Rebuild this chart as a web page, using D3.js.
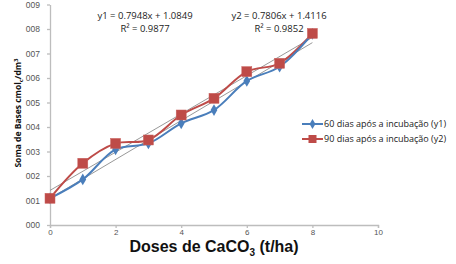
<!DOCTYPE html>
<html>
<head>
<meta charset="utf-8">
<script src="https://cdn.jsdelivr.net/npm/d3@7"></script>
<style>
  body { margin: 0; background: #fff; }
  svg { display: block; font-family: 'Open Sans', 'Liberation Sans', sans-serif; }
</style>
</head>
<body>
<div id="chart"></div>
<script>
const doses = [0, 1, 2, 3, 4, 5, 6, 7, 8]
const dias60 = [1.09, 1.86, 3.09, 3.33, 4.15, 4.69, 5.88, 6.46, 7.80]
const dias90 = [1.09, 2.52, 3.33, 3.47, 4.49, 5.17, 6.26, 6.60, 7.82]
const seriesNames = ['60 dias após a incubação (y1)', '90 dias após a incubação (y2)']
const trend1 = { slope: 0.7948, intercept: 1.0849, r2: 0.9877 }
const trend2 = { slope: 0.7806, intercept: 1.4116, r2: 0.9852 }
const yTickLabels = ['000', '001', '002', '003', '004', '005', '006', '007', '008', '009']
const xTicks = [0, 2, 4, 6, 8, 10]

const width = 456
const height = 264
const margin = { top: 4.5, right: 78, bottom: 39, left: 50 }

const svg = d3.select('#chart').append('svg')
  .attr('width', width)
  .attr('height', height)

const x = d3.scaleLinear().domain([0, 10]).range([margin.left, width - margin.right])
const y = d3.scaleLinear().domain([0, 9]).range([height - margin.bottom, margin.top])

// axes
const axisColor = '#bdbdbd'
svg.append('g')
  .attr('transform', `translate(0,${y(0)})`)
  .call(d3.axisBottom(x).tickValues(xTicks).tickSize(3).tickPadding(1).tickFormat(d3.format('d')))
  .call((g) => g.selectAll('path, line').attr('stroke', axisColor).attr('stroke-width', 1.3))
  .call((g) => g.selectAll('text').attr('fill', '#555').attr('font-size', 8)
    .attr('font-family', 'Liberation Sans, sans-serif'))

svg.append('g')
  .attr('transform', `translate(${x(0)},0)`)
  .call(d3.axisLeft(y).tickValues(d3.range(0, 10)).tickSize(3).tickPadding(7)
    .tickFormat((d) => yTickLabels[d]).tickSizeOuter(0))
  .call((g) => g.selectAll('path, line').attr('stroke', axisColor).attr('stroke-width', 1.3))
  .call((g) => g.selectAll('text').attr('fill', '#555').attr('font-size', 8.5))

// trend lines
const trends = [trend1, trend2]
svg.append('g')
  .selectAll('line')
  .data(trends)
  .join('line')
  .attr('x1', x(0))
  .attr('x2', x(8))
  .attr('y1', (d) => y(d.intercept))
  .attr('y2', (d) => y(d.intercept + d.slope * 8))
  .attr('stroke', '#8c8c8c')
  .attr('stroke-width', 0.9)

const line = d3.line()
  .x((d, i) => x(doses[i]))
  .y((d) => y(d))
  .curve(d3.curveCatmullRom.alpha(0.5))

const blue = '#4a7ebb'
const red = '#be4b48'

svg.append('path')
  .datum(dias90)
  .attr('d', line)
  .attr('fill', 'none')
  .attr('stroke', red)
  .attr('stroke-width', 2)

svg.append('path')
  .datum(dias60)
  .attr('d', line)
  .attr('fill', 'none')
  .attr('stroke', blue)
  .attr('stroke-width', 2)

svg.append('g')
  .selectAll('path')
  .data(dias60)
  .join('path')
  .attr('d', d3.symbol(d3.symbolDiamond, 40))
  .attr('transform', (d, i) => `translate(${x(doses[i])},${y(d)})`)
  .attr('fill', blue)

svg.append('g')
  .selectAll('rect')
  .data(dias90)
  .join('rect')
  .attr('x', (d, i) => x(doses[i]) - 5)
  .attr('y', (d) => y(d) - 5)
  .attr('width', 10)
  .attr('height', 10)
  .attr('fill', red)
  .attr('stroke', '#c9625f')
  .attr('stroke-width', 0.5)

// equations
const eqPos = [145, 279]
trends.forEach((t, i) => {
  const g = svg.append('text')
    .attr('text-anchor', 'middle')
    .attr('font-size', 9.5)
    .attr('fill', '#222')
  g.append('tspan')
    .attr('x', eqPos[i])
    .attr('y', 19)
    .text(`y${i + 1} = ${t.slope.toFixed(4)}x + ${t.intercept.toFixed(4)}`)
  g.append('tspan')
    .attr('x', eqPos[i])
    .attr('y', 31.5)
    .text(`R² = ${t.r2.toFixed(4)}`)
})

// legend
const legend = svg.append('g').attr('transform', 'translate(302,124)')
const legendRows = legend.selectAll('g')
  .data(seriesNames)
  .join('g')
  .attr('transform', (d, i) => `translate(0,${i * 15})`)
legendRows.append('line')
  .attr('x1', 0).attr('x2', 21)
  .attr('stroke', (d, i) => (i ? red : blue))
  .attr('stroke-width', 2)
legendRows.each(function (d, i) {
  const r = d3.select(this)
  if (i === 0) {
    r.append('path').attr('d', d3.symbol(d3.symbolDiamond, 30)).attr('transform', 'translate(10.5,0)').attr('fill', blue)
  } else {
    r.append('rect').attr('x', 6.5).attr('y', -4).attr('width', 8).attr('height', 8).attr('fill', red)
  }
})
legendRows.append('text')
  .attr('x', 22)
  .attr('dy', '0.35em')
  .attr('font-size', 9)
  .attr('fill', '#222')
  .text((d) => d)

// axis titles
const xTitle = svg.append('text')
  .attr('x', 214)
  .attr('y', 252)
  .attr('text-anchor', 'middle')
  .attr('font-family', 'Liberation Sans, sans-serif')
  .attr('font-size', 16)
  .attr('font-weight', 'bold')
  .attr('fill', '#111')
xTitle.append('tspan').text('Doses de CaCO')
xTitle.append('tspan').attr('font-size', 10).attr('dy', 4).text('3')
xTitle.append('tspan').attr('dy', -4).text(' (t/ha)')

const yTitle = svg.append('text')
  .attr('transform', 'translate(21,113) rotate(-90)')
  .attr('text-anchor', 'middle')
  .attr('font-size', 8.5)
  .attr('font-weight', 'bold')
  .attr('fill', '#111')
yTitle.append('tspan').text('Soma de Bases cmol')
yTitle.append('tspan').attr('font-size', 6).attr('dy', 2).text('c')
yTitle.append('tspan').attr('dy', -2).text('/dm')
yTitle.append('tspan').attr('font-size', 6).attr('dy', -3).text('3')
</script>
</body>
</html>
